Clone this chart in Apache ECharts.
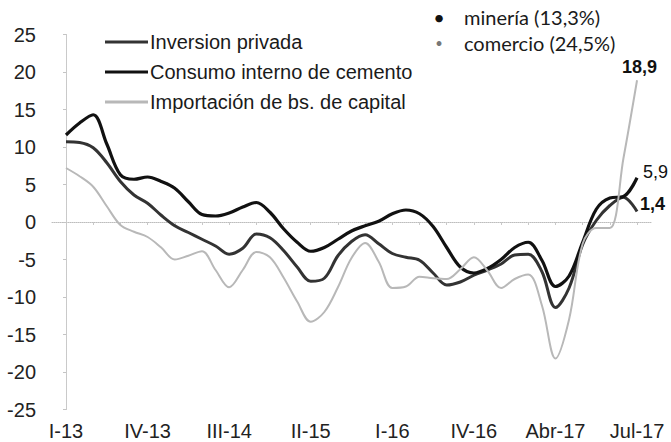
<!DOCTYPE html>
<html>
<head>
<meta charset="utf-8">
<script src="https://cdn.jsdelivr.net/npm/echarts@6/dist/echarts.min.js"></script>
<style>
  html, body { margin: 0; padding: 0; background: #fff; }
  #chart { width: 671px; height: 442px; }
</style>
</head>
<body>
<div id="chart"></div>
<script>
// etiquetas del eje x (una cada 6 puntos)
const tickLabels = ['I-13', 'IV-13', 'III-14', 'II-15', 'I-16', 'IV-16', 'Abr-17', 'Jul-17'];
const STEP = 6;

// var. % anual
const inversionPrivada = [
    10.7, 10.6, 9.9, 7.9, 5.4, 3.6, 2.5, 0.9, -0.5, -1.4,
    -2.3, -3.2, -4.3, -3.5, -1.6, -2.1, -3.8, -6.0, -7.9, -7.5,
    -4.5, -2.6, -1.7, -2.9, -4.2, -4.7, -5.1, -6.8, -8.4, -8.0,
    -7.1, -6.4, -5.6, -4.4, -4.3, -6.6, -11.4, -8.8, -3.0, 0.2,
    2.2, 3.3, 1.4
];
const consumoCemento = [
    11.6, 13.2, 14.3, 10.4, 6.3, 5.7, 6.0, 5.4, 4.5, 2.7,
    1.0, 0.8, 1.2, 2.0, 2.6, 1.3, -0.9, -2.7, -3.9, -3.4,
    -2.3, -1.2, -0.5, 0.1, 1.1, 1.6, 1.1, -0.6, -3.4, -6.0,
    -6.8, -6.2, -5.0, -3.4, -2.7, -5.1, -8.6, -7.2, -2.7, 1.7,
    3.2, 3.4, 5.9
];
const importacionCapital = [
    7.2, 6.1, 4.7, 2.1, -0.4, -1.3, -2.0, -3.4, -5.0, -4.5,
    -3.9, -6.4, -8.7, -6.4, -4.0, -4.7, -7.4, -10.6, -13.3, -12.0,
    -8.7, -4.8, -2.8, -5.3, -8.8, -8.6, -7.3, -7.5, -7.6, -6.3,
    -4.7, -6.5, -8.8, -7.6, -7.0, -11.1, -18.2, -13.0, -2.9, -0.8,
    -0.8, 8.5, 18.9
];

const notas = ['minería (13,3%)', 'comercio (24,5%)'];

const FONT = 'Liberation Sans, Arial, sans-serif';
const fmt = v => String(v).replace('.', ',');
const pts = arr => arr.map((v, i) => [i, v]);

const chart = echarts.init(document.getElementById('chart'), null, { renderer: 'svg' });

const lineSeries = (name, data, color, width, label) => ({
    name: name,
    type: 'line',
    data: pts(data),
    smooth: 0.35,
    symbol: 'none',
    lineStyle: { color: color, width: width },
    itemStyle: { color: color },
    endLabel: {
        show: true,
        formatter: p => fmt(p.value[1]),
        fontFamily: FONT,
        fontSize: 18,
        fontWeight: label.bold ? 'bold' : 'normal',
        color: '#111',
        distance: 0,
        offset: label.offset
    }
});

chart.setOption({
    animation: false,
    backgroundColor: '#fff',
    textStyle: { fontFamily: FONT },
    grid: { left: 52, right: 19, top: 34.5, bottom: 32.5 },
    legend: {
        orient: 'vertical',
        left: 105,
        top: 32,
        padding: 0,
        icon: 'rect',
        itemWidth: 43,
        itemHeight: 3,
        itemGap: 10,
        textStyle: { fontFamily: FONT, fontSize: 20, lineHeight: 20, color: '#1a1a1a', padding: [0, 0, 0, -3] },
        data: ['Inversion privada', 'Consumo interno de cemento', 'Importación de bs. de capital']
    },
    xAxis: [
        {
            type: 'value',
            min: -1.03,
            max: 43.1,
            position: 'bottom',
            axisLine: { show: false, onZero: false },
            axisTick: { show: false },
            splitLine: { show: false },
            axisLabel: {
                customValues: tickLabels.map((_, k) => k * STEP),
                formatter: v => tickLabels[Math.round(v / STEP)],
                fontSize: 20,
                color: '#222',
                margin: 11
            }
        },
        {
            // línea del cero punteada
            type: 'value',
            min: -1.03,
            max: 43.1,
            position: 'bottom',
            axisLine: { show: true, onZero: true, lineStyle: { color: '#bdbdbd', type: 'dotted', width: 1 } },
            axisTick: {
                show: true,
                length: 3,
                customValues: Array.from({ length: 22 }, (_, k) => k * 2),
                lineStyle: { color: '#c8c8c8' }
            },
            axisLabel: { show: false },
            splitLine: { show: false }
        }
    ],
    yAxis: {
        type: 'value',
        min: -25,
        max: 25,
        interval: 5,
        axisLine: { show: true, lineStyle: { color: '#c4c4c4', type: 'dotted', width: 1 } },
        axisTick: { show: true, length: 3, lineStyle: { color: '#c4c4c4' } },
        splitLine: { show: false },
        axisLabel: { fontSize: 20, color: '#222', margin: 16 }
    },
    graphic: [
        { type: 'text', x: 439, y: 17, style: { text: '•', font: '20px Lato', fill: '#111', align: 'center', verticalAlign: 'middle' } },
        { type: 'text', x: 464, y: 17, style: { text: notas[0], font: '20px Lato', fill: '#1a1a1a', verticalAlign: 'middle' } },
        { type: 'text', x: 439, y: 43, style: { text: '•', font: '13px Lato', fill: '#777', align: 'center', verticalAlign: 'middle' } },
        { type: 'text', x: 464, y: 43, style: { text: notas[1], font: '20px Lato', fill: '#1a1a1a', verticalAlign: 'middle' } }
    ],
    series: [
        lineSeries('Inversion privada', inversionPrivada, '#333333', 3, { bold: true, offset: [3, -8] }),
        lineSeries('Consumo interno de cemento', consumoCemento, '#111111', 3.2, { bold: false, offset: [6, -6] }),
        lineSeries('Importación de bs. de capital', importacionCapital, '#b8b8b8', 2, { bold: true, offset: [-15, -13] })
    ]
});
</script>
</body>
</html>
